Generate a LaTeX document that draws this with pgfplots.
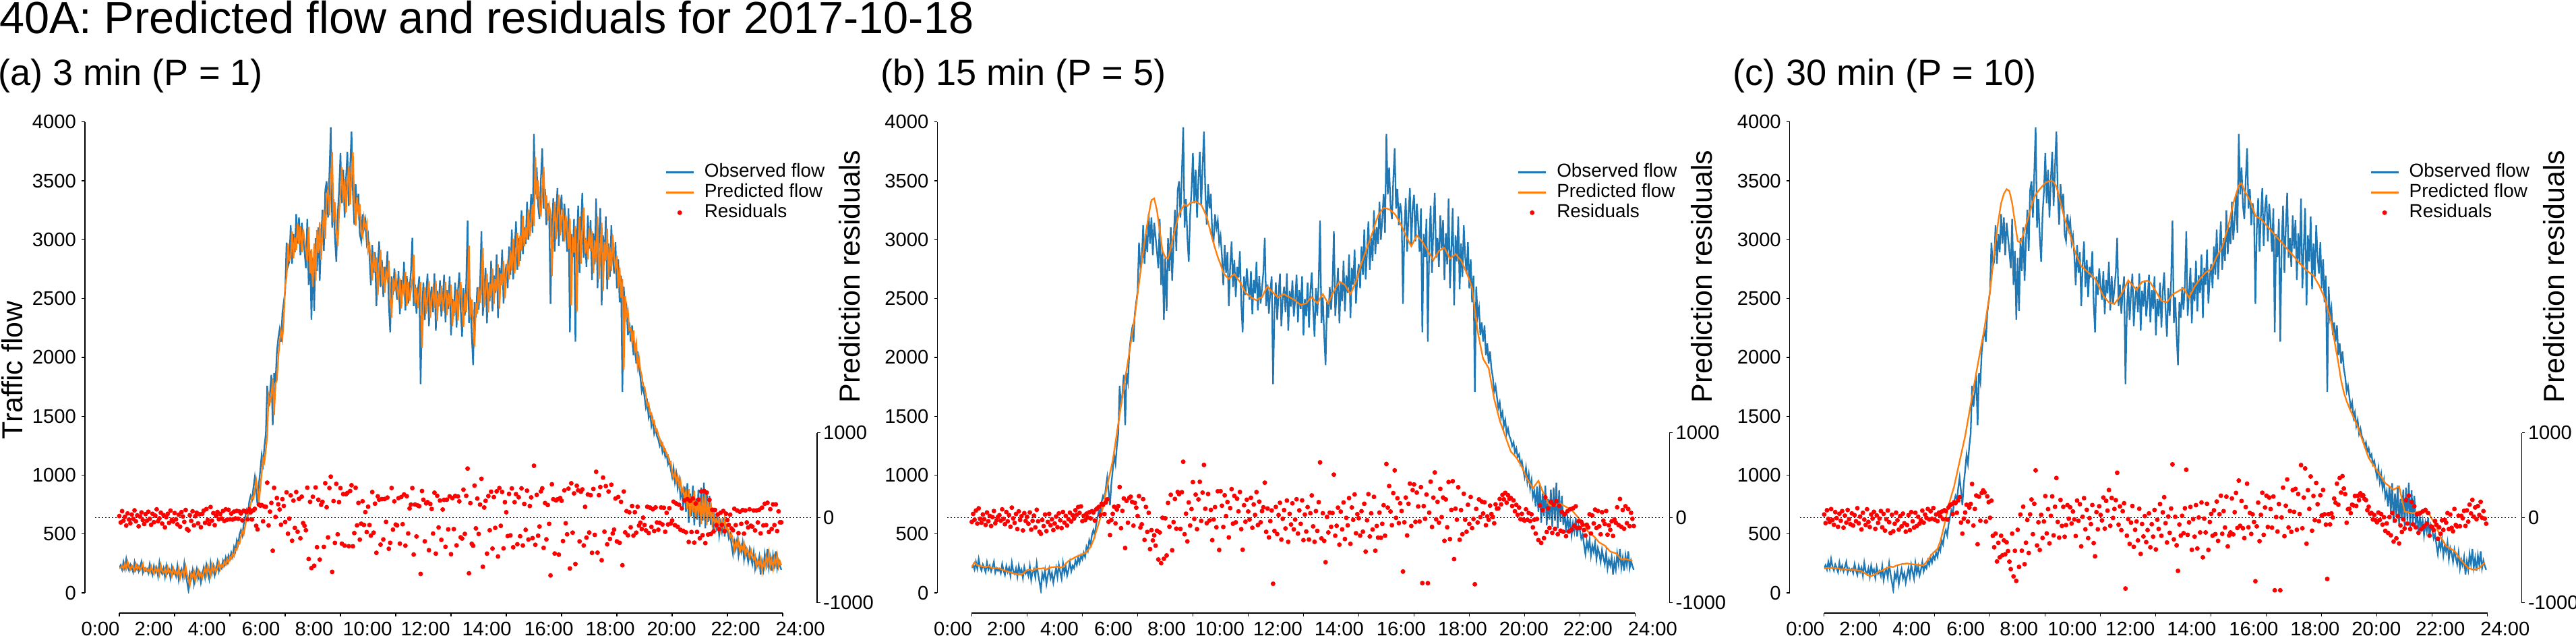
\documentclass[border=0pt]{standalone}
\usepackage{fontspec}
\setmainfont{Liberation Sans}
\usepackage{pgfplots}
\usepackage{pgfplotstable}
\pgfplotsset{compat=1.18}
\definecolor{obsblue}{HTML}{1F77B4}
\definecolor{predorange}{HTML}{FF7F0E}
\definecolor{resred}{HTML}{FF0000}
\newcommand{\tickfont}{\fontsize{7}{8.4}\selectfont}
\newcommand{\legfont}{\fontsize{6.7}{8}\selectfont}
\newcommand{\labfont}{\fontsize{10.3}{12.4}\selectfont}
\pgfplotsset{
  resmark/.style={only marks, mark=*, mark size=0.62pt, color=resred, mark options={draw=none, fill=resred},
     legend image code/.code={\draw[##1] plot coordinates {(4.9pt,0pt)};}},
  flowax/.style={
    scale only axis, width=236.16pt, height=167.59pt,
    xmin=0, xmax=24, ymin=0, ymax=4000,
    axis lines*=left,
    axis x line shift=7.2pt, axis y line shift=12.24pt,
    axis line style={line width=0.3pt, black},
    xtick={0,2,...,24},
    xticklabels={0:00,2:00,4:00,6:00,8:00,10:00,12:00,14:00,16:00,18:00,20:00,22:00,24:00},
    ytick={0,500,...,4000},
    yticklabels={0,500,1000,1500,2000,2500,3000,3500,4000},
    tick align=outside, major tick length=1.1pt,
    tick style={black, line width=0.3pt},
    tick label style={font=\tickfont},
    xticklabel style={anchor=north, inner sep=0pt, yshift=-1.95pt, xshift={{-28,-31,-34,-36,-39,-42,-38,-29,-19,-10,-1,12,26}[\ticknum]*0.24pt}},
    yticklabel style={anchor=east, inner sep=0pt, xshift=-1.85pt},
    legend entries={Observed flow, Predicted flow, Residuals},
    legend cell align=left,
    legend image code/.code={\draw[##1] (0pt,0pt) -- (9.8pt,0pt);},
    legend style={at={(0.822,0.914)}, anchor=north west, draw=none, fill=none, inner sep=0pt, font=\legfont, row sep=0.6pt, nodes={inner sep=0pt, text height=5pt, text depth=1.6pt}, /tikz/every odd column/.append style={column sep=3.6pt}},
  },
  resax/.style={
    scale only axis, width=236.16pt, height=60.46pt,
    xmin=0, xmax=24, ymin=-1000, ymax=1000,
    axis x line=none, axis y line*=right,
    axis y line shift=12.24pt,
    axis line style={line width=0.3pt, black},
    xtick=\empty,
    ytick={-1000,0,1000}, yticklabels={-1000,0,1000},
    tick align=outside, major tick length=1.1pt,
    tick style={black, line width=0.3pt},
    tick label style={font=\tickfont},
    yticklabel style={anchor=west, inner sep=0pt, xshift=0.9pt},
    clip=false,
  },
}
\newcommand{\panel}[4]{%
\begin{axis}[flowax, at={(#1,15.12pt)}, anchor=south west]
  \addplot[obsblue, line width=0.55pt] table[x expr=\coordindex*0.05, y=v]{\obs};
  \addplot[predorange, line width=0.55pt] table[x expr=\coordindex*#3, y=v]{#2};
  \addlegendimage{resmark}
\end{axis}
\begin{axis}[resax, at={(#1,11.64pt)}, anchor=south west]
  \addplot[black, line width=0.45pt, dash pattern=on 0.45pt off 0.75pt] coordinates {(-0.88,0) (25.05,0)};
  \addplot[resmark] table[x expr=\coordindex*0.05, y=v]{#4};
\end{axis}}
\begin{document}
\pgfplotstableread[row sep=\\]{
v\\
212\\236\\198\\263\\205\\288\\224\\190\\241\\213\\176\\258\\197\\231\\183\\219\\264\\172\\209\\187\\
203\\168\\245\\189\\152\\227\\178\\213\\143\\256\\184\\161\\209\\137\\231\\172\\198\\126\\219\\164\\
187\\143\\228\\109\\176\\202\\131\\249\\158\\92\\22\\165\\118\\191\\74\\146\\203\\122\\169\\87\\
151\\212\\134\\238\\176\\119\\253\\168\\224\\147\\196\\262\\183\\231\\209\\274\\236\\301\\257\\318\\
286\\342\\305\\391\\357\\448\\412\\497\\534\\488\\583\\642\\701\\664\\776\\824\\792\\893\\981\\862\\
744\\928\\1041\\1171\\1096\\1248\\1352\\1759\\1583\\1694\\1852\\1425\\1866\\1791\\2048\\2162\\2240\\2133\\2376\\2471\\
2560\\2975\\2774\\2812\\3122\\2795\\3048\\2893\\3217\\2966\\3189\\2868\\3143\\3021\\2897\\2758\\3176\\2614\\2905\\2320\\
2845\\2395\\3012\\2733\\3104\\2651\\2987\\3255\\2906\\3421\\3496\\3187\\3562\\3955\\3102\\3344\\3018\\2812\\3217\\3411\\
3736\\3309\\3594\\3188\\3512\\3745\\3286\\3618\\3918\\3402\\3127\\3471\\3265\\3389\\3044\\2988\\3215\\3096\\3163\\2972\\
3034\\2861\\2612\\2955\\2718\\2893\\2436\\2781\\2984\\2597\\2827\\2513\\2769\\2678\\2902\\2455\\2213\\2688\\2531\\2754\\
2602\\2489\\2731\\2366\\2658\\2543\\2812\\2398\\2691\\2457\\2588\\2725\\3015\\2436\\2619\\2371\\2562\\2688\\1772\\2394\\
2637\\2318\\2542\\2712\\2265\\2498\\2601\\2384\\2713\\2226\\2566\\2431\\2654\\2347\\2489\\2702\\2298\\2571\\2412\\2689\\
2187\\2496\\2348\\2635\\2254\\2563\\2721\\2409\\2175\\2588\\2356\\2642\\3162\\2293\\2511\\2186\\1935\\2468\\2337\\2596\\
2405\\2618\\3071\\2352\\2546\\2760\\2289\\2637\\2478\\2821\\2391\\2696\\2547\\2873\\2334\\2762\\2617\\2915\\2459\\2684\\
2793\\2588\\2942\\2701\\3085\\2662\\2896\\3154\\2745\\3012\\2819\\3248\\2877\\3106\\2961\\3321\\2998\\3167\\3386\\3059\\
3897\\3384\\3612\\3291\\3175\\3508\\3776\\3263\\3431\\3122\\3309\\3218\\2454\\3086\\3352\\2899\\3208\\3437\\2946\\3268\\
3381\\2986\\3305\\3142\\2897\\3264\\2213\\3048\\2852\\3176\\2133\\2963\\3289\\2717\\3102\\3398\\2846\\3013\\2768\\3205\\
2924\\3167\\2658\\3054\\2791\\3349\\2587\\2931\\3268\\2442\\3036\\2815\\3197\\2579\\2968\\2683\\3121\\2854\\2712\\2978\\
2586\\2833\\2467\\2694\\1706\\2602\\2348\\2421\\2188\\2296\\2134\\2272\\2019\\2118\\1947\\2051\\1903\\1834\\1712\\1758\\
1663\\1572\\1618\\1489\\1534\\1417\\1468\\1352\\1396\\1331\\1302\\1248\\1279\\1193\\1227\\1154\\1176\\1092\\1121\\1046\\
984\\1063\\941\\1010\\886\\957\\812\\863\\734\\902\\688\\931\\596\\844\\652\\912\\574\\798\\621\\877\\
563\\894\\612\\936\\548\\871\\603\\824\\577\\689\\512\\641\\553\\617\\488\\592\\521\\636\\479\\574\\
532\\461\\498\\408\\330\\436\\372\\451\\317\\402\\349\\428\\286\\381\\337\\264\\365\\298\\244\\342\\
207\\281\\232\\304\\156\\268\\198\\331\\245\\372\\214\\296\\187\\318\\236\\352\\209\\274\\228\\196\\
}\obs
\pgfplotstableread[row sep=\\]{
v\\
208\\213\\230\\203\\249\\208\\266\\221\\198\\233\\214\\188\\245\\202\\226\\193\\218\\249\\185\\211\\
186\\198\\173\\227\\188\\162\\214\\180\\205\\156\\235\\184\\168\\202\\151\\217\\176\\194\\144\\209\\
164\\180\\150\\209\\126\\173\\191\\141\\224\\160\\114\\65\\165\\132\\183\\101\\152\\192\\135\\168\\
123\\168\\210\\156\\229\\185\\145\\239\\180\\219\\178\\212\\258\\203\\237\\221\\267\\240\\286\\255\\
306\\292\\331\\312\\374\\364\\430\\419\\480\\527\\497\\564\\630\\689\\671\\754\\814\\798\\873\\963\\
886\\768\\891\\1018\\1145\\1111\\1218\\1331\\1678\\1618\\1672\\1820\\1510\\1778\\1806\\1997\\2139\\2224\\2154\\2327\\
2615\\2677\\2968\\2827\\2853\\3070\\2842\\3019\\2910\\3137\\2961\\3117\\2893\\3085\\3000\\2913\\2816\\3108\\2715\\2919\\
2599\\2967\\2652\\3083\\2888\\3148\\2831\\3066\\3254\\3009\\3370\\3422\\3206\\3468\\3744\\3146\\3316\\3088\\2943\\3227\\
3388\\3615\\3316\\3516\\3232\\3458\\3622\\3300\\3533\\3743\\3311\\3119\\3360\\3216\\3302\\3061\\3022\\3181\\3097\\3144\\
2905\\2949\\2828\\2653\\2894\\2728\\2850\\2530\\2772\\2914\\2608\\2769\\2549\\2728\\2665\\2821\\2509\\2339\\2672\\2562\\
2687\\2580\\2501\\2671\\2415\\2620\\2539\\2727\\2438\\2643\\2479\\2571\\2667\\2870\\2464\\2592\\2419\\2552\\2641\\2080\\
2426\\2596\\2373\\2529\\2648\\2336\\2499\\2571\\2419\\2649\\2308\\2546\\2452\\2608\\2393\\2492\\2641\\2359\\2550\\2438\\
2617\\2266\\2482\\2379\\2580\\2313\\2529\\2640\\2421\\2258\\2547\\2384\\2584\\2948\\2340\\2493\\2265\\2090\\2463\\2371\\
2597\\2464\\2613\\2930\\2426\\2562\\2712\\2382\\2626\\2515\\2755\\2454\\2667\\2563\\2791\\2414\\2713\\2612\\2821\\2501\\
2729\\2805\\2662\\2909\\2741\\3010\\2713\\2877\\3058\\2772\\3038\\2903\\3204\\2944\\3104\\3003\\3255\\3029\\3147\\3300\\
3116\\3703\\3344\\3503\\3279\\3198\\3431\\3618\\3259\\3377\\3160\\3291\\3228\\2693\\3135\\3321\\3004\\3221\\3381\\3037\\
3182\\3261\\2984\\3208\\3093\\2922\\3179\\2443\\3028\\2890\\3117\\2387\\2968\\3196\\2796\\3065\\3273\\2886\\3003\\2832\\
3099\\2902\\3072\\2716\\2993\\2809\\3199\\2666\\2907\\3143\\2564\\2980\\2826\\3093\\2660\\2933\\2733\\3040\\2853\\2753\\
2865\\2590\\2763\\2507\\2666\\1894\\2521\\2344\\2395\\2232\\2247\\2134\\2230\\2053\\2123\\1923\\1996\\1892\\1845\\1758\\
1749\\1682\\1590\\1609\\1515\\1525\\1440\\1458\\1375\\1387\\1344\\1308\\1259\\1273\\1210\\1220\\1169\\1172\\1109\\1115\\
1017\\974\\1029\\944\\992\\905\\955\\853\\889\\799\\861\\712\\882\\647\\821\\686\\868\\632\\789\\665\\
806\\586\\818\\620\\847\\576\\802\\614\\769\\596\\674\\550\\641\\579\\624\\534\\606\\557\\637\\527\\
552\\522\\473\\499\\436\\361\\435\\390\\446\\352\\401\\364\\420\\320\\377\\346\\295\\366\\319\\281\\
314\\220\\272\\237\\288\\184\\263\\214\\307\\247\\335\\225\\282\\206\\298\\240\\321\\221\\267\\235\\
}\pa
\pgfplotstableread[row sep=\\]{
v\\
219\\258\\236\\228\\224\\219\\226\\214\\210\\212\\
206\\197\\188\\181\\174\\166\\160\\156\\153\\172\\
193\\198\\186\\203\\205\\206\\210\\198\\214\\217\\
219\\222\\214\\219\\248\\271\\284\\297\\310\\318\\
329\\337\\362\\389\\448\\520\\596\\677\\792\\913\\
1015\\1123\\1278\\1437\\1594\\1751\\1893\\2040\\2196\\2354\\
2540\\2721\\2890\\3061\\3210\\3336\\3350\\3248\\3080\\2904\\
2852\\2839\\2931\\3035\\3132\\3219\\3262\\3297\\3286\\3310\\
3318\\3323\\3309\\3297\\3248\\3192\\3101\\3009\\2928\\2852\\
2790\\2721\\2690\\2668\\2689\\2708\\2671\\2642\\2598\\2550\\
2529\\2511\\2496\\2485\\2502\\2511\\2560\\2603\\2574\\2550\\
2528\\2511\\2526\\2537\\2522\\2511\\2497\\2485\\2463\\2446\\
2452\\2459\\2488\\2511\\2483\\2459\\2501\\2537\\2496\\2459\\
2512\\2564\\2606\\2642\\2631\\2616\\2574\\2537\\2590\\2642\\
2721\\2799\\2866\\2930\\2996\\3061\\3136\\3205\\3240\\3271\\
3265\\3258\\3240\\3219\\3182\\3140\\3088\\3035\\2990\\2944\\
2990\\3035\\3010\\2983\\2942\\2904\\2865\\2826\\2866\\2904\\
2918\\2930\\2884\\2839\\2858\\2878\\2851\\2826\\2772\\2721\\
2660\\2590\\2405\\2223\\2102\\1987\\1948\\1909\\1778\\1647\\
1556\\1463\\1398\\1332\\1266\\1201\\1176\\1149\\1110\\1070\\
1018\\965\\926\\887\\921\\952\\893\\834\\788\\743\\
741\\743\\750\\756\\743\\730\\716\\703\\677\\651\\
625\\599\\560\\520\\500\\481\\455\\428\\415\\402\\
376\\350\\343\\337\\311\\284\\286\\284\\278\\271\\
}\pb
\pgfplotstableread[row sep=\\]{
v\\
205\\212\\208\\214\\206\\210\\199\\204\\196\\201\\
192\\197\\188\\190\\176\\162\\148\\143\\151\\168\\
183\\190\\203\\214\\223\\219\\231\\238\\244\\247\\
250\\246\\243\\240\\238\\235\\236\\262\\296\\330\\
352\\374\\438\\530\\636\\743\\824\\904\\1011\\1118\\
1225\\1332\\1466\\1599\\1733\\1866\\1995\\2123\\2250\\2405\\
2561\\2775\\2988\\3160\\3309\\3389\\3429\\3412\\3310\\3149\\
2988\\2975\\3041\\3122\\3202\\3282\\3362\\3398\\3429\\3456\\
3482\\3494\\3501\\3490\\3452\\3362\\3268\\3175\\3108\\3041\\
2961\\2881\\2828\\2774\\2754\\2734\\2712\\2690\\2668\\2619\\
2570\\2521\\2494\\2467\\2460\\2454\\2486\\2518\\2558\\2606\\
2654\\2627\\2600\\2574\\2608\\2641\\2646\\2652\\2635\\2598\\
2561\\2520\\2480\\2474\\2467\\2500\\2534\\2548\\2561\\2574\\
2587\\2547\\2507\\2554\\2601\\2634\\2668\\2694\\2721\\2735\\
2748\\2801\\2855\\2895\\2935\\3015\\3095\\3202\\3309\\3384\\
3460\\3480\\3416\\3376\\3336\\3269\\3202\\3188\\3175\\3148\\
3122\\3095\\3068\\3041\\3015\\2988\\2961\\2935\\2908\\2881\\
2855\\2828\\2801\\2775\\2748\\2730\\2712\\2694\\2654\\2614\\
2560\\2507\\2427\\2347\\2226\\2086\\1956\\1806\\1702\\1629\\
1569\\1519\\1465\\1412\\1345\\1278\\1211\\1145\\1109\\1074\\
1038\\1002\\967\\931\\913\\895\\877\\890\\904\\797\\
690\\686\\681\\677\\684\\690\\690\\690\\677\\664\\
623\\583\\530\\477\\437\\397\\383\\370\\356\\323\\
290\\263\\237\\210\\203\\196\\203\\210\\237\\255\\
}\pc
\pgfplotstableread[row sep=\\]{
v\\
19\\-56\\77\\-35\\10\\-93\\50\\-22\\-66\\37\\-14\\86\\-43\\27\\-101\\13\\62\\-29\\-75\\42\\
-34\\70\\-13\\-83\\46\\-53\\24\\98\\-42\\-8\\59\\-70\\30\\-114\\5\\45\\-61\\83\\-26\\-46\\
54\\-19\\-78\\35\\-106\\66\\14\\-50\\91\\-134\\-150\\29\\-37\\75\\-91\\18\\58\\-67\\40\\-112\\
46\\82\\-61\\101\\-27\\-74\\125\\-34\\53\\-88\\22\\67\\-18\\43\\-10\\78\\-38\\98\\-24\\93\\
-18\\47\\-22\\71\\-9\\80\\-13\\72\\49\\-31\\81\\74\\66\\-19\\98\\63\\-21\\87\\104\\-96\\
-138\\154\\142\\148\\-43\\131\\128\\412\\-92\\71\\173\\-389\\351\\9\\232\\158\\96\\-82\\218\\139\\
-51\\298\\-189\\-11\\263\\-271\\201\\-121\\302\\-166\\221\\-243\\247\\-63\\-96\\-148\\353\\-487\\187\\-593\\
246\\-566\\356\\-347\\211\\-493\\152\\187\\-344\\406\\123\\-232\\349\\483\\-638\\195\\-297\\398\\-196\\184\\
348\\-306\\278\\-328\\276\\291\\-336\\314\\382\\-337\\-181\\352\\-91\\173\\-258\\-71\\193\\-85\\66\\-170\\
129\\-86\\-211\\302\\-176\\165\\-414\\251\\212\\-317\\219\\-256\\220\\-50\\237\\-366\\-296\\349\\-141\\192\\
-81\\-91\\230\\-305\\243\\-77\\273\\-329\\253\\-186\\109\\154\\348\\-434\\155\\-221\\143\\136\\-662\\314\\
211\\-278\\169\\183\\-383\\162\\102\\-187\\294\\-423\\258\\-115\\202\\-261\\96\\210\\-343\\212\\-138\\251\\
-430\\230\\-134\\256\\-326\\250\\192\\-231\\-246\\330\\-191\\258\\578\\-655\\171\\-307\\-330\\378\\-126\\225\\
-192\\154\\458\\-578\\120\\198\\-423\\255\\-148\\306\\-364\\242\\-120\\310\\-457\\348\\-96\\303\\-362\\183\\
64\\-217\\280\\-208\\344\\-348\\183\\277\\-313\\240\\-219\\345\\-327\\162\\-143\\318\\-257\\138\\239\\-241\\
611\\-319\\268\\-212\\-104\\310\\345\\-355\\172\\-255\\149\\-73\\-680\\393\\217\\-422\\204\\216\\-435\\231\\
199\\-275\\321\\-66\\-196\\342\\-598\\405\\-176\\286\\-545\\376\\321\\-279\\306\\333\\-327\\127\\-235\\273\\
-175\\265\\-414\\338\\-202\\540\\-412\\265\\361\\-501\\472\\-165\\371\\-314\\308\\-250\\388\\-186\\-141\\225\\
-279\\243\\-296\\187\\-560\\308\\-173\\77\\-207\\64\\-113\\138\\-211\\65\\-176\\128\\-93\\-58\\-133\\0\\
-86\\-150\\128\\-180\\119\\-108\\98\\-156\\121\\-56\\-142\\-60\\120\\-80\\117\\-166\\57\\-80\\112\\-69\\
-33\\189\\-88\\166\\-106\\152\\-143\\110\\-155\\203\\-173\\219\\-286\\197\\-169\\226\\-294\\166\\-168\\212\\
-243\\308\\-206\\316\\-299\\295\\-199\\210\\-192\\93\\-162\\91\\-88\\38\\-136\\58\\-85\\79\\-158\\47\\
-28\\-85\\35\\-127\\-148\\105\\-88\\85\\-181\\70\\-73\\90\\-188\\85\\-56\\-115\\98\\-95\\-105\\85\\
-150\\85\\-56\\94\\-185\\118\\-91\\164\\-87\\175\\-169\\99\\-133\\157\\-87\\157\\-157\\74\\-55\\-55\\
}\ra
\pgfplotstableread[row sep=\\]{
v\\
-50\\45\\-24\\83\\-70\\110\\-13\\-59\\38\\-18\\-85\\61\\-42\\21\\-98\\6\\78\\-66\\-30\\11\\
29\\-35\\98\\-14\\-77\\67\\-43\\30\\-106\\118\\-8\\-61\\43\\-133\\74\\-27\\18\\-150\\53\\-38\\
11\\-72\\62\\-141\\-37\\24\\-114\\93\\-43\\-166\\-190\\-26\\-99\\37\\-158\\-50\\45\\-90\\-19\\-146\\
-69\\14\\-112\\50\\-30\\-123\\67\\-58\\21\\-93\\-18\\59\\-46\\29\\-10\\88\\34\\125\\56\\133\\
-41\\22\\-29\\47\\2\\64\\-8\\76\\61\\-33\\98\\112\\127\\31\\164\\152\\43\\178\\216\\-49\\
-204\\-28\\45\\128\\-67\\96\\137\\361\\-124\\79\\226\\-357\\198\\-59\\234\\247\\186\\-94\\174\\118\\
20\\254\\-116\\-78\\218\\-262\\126\\-168\\57\\-370\\-147\\-268\\-207\\-329\\-153\\-492\\-174\\-536\\-1\\-484\\
-7\\-444\\173\\-106\\269\\-384\\-52\\220\\-129\\302\\277\\-132\\300\\658\\-195\\47\\-279\\179\\-93\\101\\
418\\-14\\271\\-135\\215\\422\\-37\\295\\621\\105\\-65\\279\\-32\\92\\-265\\-21\\124\\-113\\311\\-380\\
312\\141\\-109\\264\\19\\185\\-232\\113\\336\\-71\\257\\-55\\223\\74\\302\\-135\\-377\\146\\-48\\212\\
73\\-22\\235\\-119\\156\\32\\301\\-87\\189\\-54\\77\\122\\412\\-167\\108\\-232\\-41\\85\\-778\\-156\\
126\\-193\\31\\175\\-257\\-13\\90\\-127\\202\\-285\\45\\-80\\169\\-138\\-22\\217\\-187\\86\\-73\\204\\
-265\\37\\-163\\124\\-257\\52\\262\\-102\\-284\\77\\-155\\183\\651\\-244\\52\\-273\\-524\\9\\-174\\59\\
-107\\54\\507\\-212\\-96\\118\\-318\\71\\-138\\179\\-251\\-2\\-91\\231\\-308\\120\\-25\\273\\-183\\42\\
-6\\-211\\76\\-165\\164\\-399\\-30\\277\\-221\\51\\-140\\245\\-389\\-98\\-235\\60\\-237\\-73\\146\\-212\\
632\\119\\372\\72\\-89\\289\\557\\-2\\229\\-64\\169\\78\\-634\\-54\\237\\-209\\164\\401\\-98\\324\\
391\\-49\\295\\132\\-45\\360\\-770\\137\\-13\\272\\-771\\59\\424\\-109\\236\\532\\-19\\187\\-58\\339\\
6\\237\\-272\\215\\-113\\419\\-252\\92\\430\\-488\\106\\-23\\358\\-260\\90\\-195\\282\\-24\\-166\\152\\
-74\\243\\-123\\-15\\-784\\103\\-56\\215\\6\\190\\49\\182\\-89\\15\\-25\\142\\43\\7\\-66\\157\\
107\\109\\220\\157\\268\\216\\292\\176\\265\\221\\232\\138\\204\\75\\150\\33\\119\\-18\\46\\-24\\
-34\\98\\-24\\55\\-40\\40\\-114\\-24\\-187\\-15\\-264\\144\\-297\\89\\-241\\240\\-169\\110\\-122\\187\\
-178\\153\\-131\\195\\-195\\141\\-153\\68\\-166\\41\\-218\\75\\-163\\99\\-142\\111\\-95\\134\\-124\\-42\\
-121\\-49\\-81\\-146\\-210\\-83\\-114\\40\\-186\\26\\-68\\95\\-122\\79\\-101\\-196\\65\\-35\\-75\\78\\
-200\\-90\\-144\\-43\\-215\\-21\\-59\\122\\-86\\220\\-107\\91\\-129\\135\\-65\\101\\-100\\57\\-13\\-98\\
}\rb
\pgfplotstableread[row sep=\\]{
v\\
38\\-64\\88\\-14\\-50\\101\\-27\\-83\\66\\-5\\-107\\46\\-35\\77\\-118\\24\\-58\\91\\-18\\-77\\
50\\-93\\30\\-42\\112\\-66\\13\\-139\\58\\-22\\-85\\99\\-50\\-110\\38\\-10\\69\\-131\\27\\-61\\
-10\\78\\-114\\45\\-152\\-19\\85\\-53\\-180\\34\\-160\\-72\\59\\-30\\-141\\19\\-102\\48\\-66\\-165\\
-86\\29\\-147\\66\\-43\\-117\\58\\-98\\11\\-70\\-30\\83\\-58\\37\\-2\\102\\-21\\75\\-13\\114\\
-23\\38\\-41\\59\\18\\71\\-16\\88\\77\\-22\\121\\146\\157\\43\\182\\171\\58\\203\\241\\-57\\
-188\\-12\\61\\152\\-46\\119\\162\\396\\-93\\102\\261\\-313\\247\\-35\\291\\321\\298\\-46\\251\\183\\
-1\\200\\-214\\-348\\-188\\-515\\-296\\-467\\-213\\-442\\-267\\-431\\-290\\-393\\-517\\-606\\-188\\-691\\-390\\-744\\
-143\\-580\\37\\-389\\129\\-547\\-295\\-27\\-416\\39\\214\\-195\\164\\557\\-327\\-54\\-380\\33\\-239\\-45\\
254\\-185\\100\\-302\\22\\251\\-208\\128\\466\\-50\\-235\\209\\-97\\127\\-224\\-87\\147\\-12\\122\\-69\\
73\\-20\\-216\\201\\-36\\159\\-338\\11\\230\\-137\\93\\-241\\-5\\-76\\148\\-299\\-455\\66\\-137\\135\\
32\\-32\\237\\-128\\198\\83\\326\\-96\\233\\-3\\102\\207\\529\\-82\\133\\-147\\76\\170\\-834\\-212\\
-17\\-309\\-58\\138\\-343\\-143\\-45\\-268\\105\\-426\\-75\\-221\\19\\-288\\-146\\50\\-348\\-77\\-223\\91\\
-374\\-24\\-132\\161\\-213\\63\\241\\-65\\-292\\14\\-178\\108\\628\\-255\\11\\-325\\-626\\-80\\-211\\22\\
-182\\111\\564\\-202\\-55\\126\\-378\\-17\\-223\\147\\-363\\2\\-174\\179\\-467\\-11\\-174\\164\\-379\\-51\\
45\\-213\\87\\-194\\190\\-273\\41\\259\\-190\\77\\-116\\247\\-338\\-209\\-174\\226\\-197\\65\\291\\-121\\
437\\-96\\196\\-125\\-241\\124\\400\\-113\\55\\-192\\40\\-51\\-748\\-102\\177\\-276\\33\\293\\-202\\120\\
259\\-109\\237\\101\\-118\\249\\-855\\7\\-163\\161\\-855\\2\\354\\-218\\141\\450\\-115\\78\\-167\\324\\
69\\339\\-143\\279\\43\\619\\-125\\237\\580\\-306\\324\\103\\485\\-153\\256\\-29\\409\\159\\-42\\264\\
26\\326\\40\\-81\\-721\\42\\-79\\50\\2\\225\\176\\400\\153\\466\\295\\489\\343\\278\\-59\\99\\
104\\53\\153\\144\\256\\139\\257\\207\\287\\258\\264\\220\\207\\89\\128\\48\\55\\-21\\31\\-30\\
-54\\61\\-26\\43\\-81\\5\\-155\\-68\\-179\\7\\-207\\54\\-281\\-33\\-243\\17\\-303\\-92\\-169\\-20\\
-127\\208\\-69\\259\\-133\\187\\-78\\134\\-113\\41\\-178\\49\\-137\\73\\-102\\92\\-69\\54\\-211\\-103\\
-109\\-146\\-38\\-83\\-248\\-113\\-190\\-31\\-144\\-25\\-58\\54\\-133\\37\\-120\\-160\\102\\-86\\-103\\23\\
-100\\22\\-6\\80\\-97\\86\\-47\\154\\50\\210\\13\\120\\-19\\138\\31\\187\\-1\\77\\-11\\-71\\
}\rc
\begin{tikzpicture}
\useasboundingbox (0pt,0pt) rectangle (917.04pt,226.08pt);
\panel{42.48pt}{\pa}{0.05}{\ra}
\panel{345.94pt}{\pb}{0.1}{\rb}
\panel{649.39pt}{\pc}{0.1}{\rc}
\node[font=\fontsize{16}{19}\selectfont, anchor=base west, inner sep=0pt] at (-0.4pt,214.25pt) {40A: Predicted flow and residuals for 2017-10-18};
\node[font=\fontsize{13}{15.6}\selectfont, anchor=base west, inner sep=0pt] at (-0.9pt,195.67pt) {(a) 3 min (P = 1)};
\node[font=\fontsize{13}{15.6}\selectfont, anchor=base west, inner sep=0pt] at (313.44pt,195.67pt) {(b) 15 min (P = 5)};
\node[font=\fontsize{13}{15.6}\selectfont, anchor=base west, inner sep=0pt] at (616.8pt,195.67pt) {(c) 30 min (P = 10)};
\node[font=\labfont, rotate=90, anchor=base, inner sep=0pt] at (8.04pt,94.32pt) {Traffic flow};
\node[font=\labfont, rotate=90, anchor=base, inner sep=0pt] at (306pt,127.68pt) {Prediction residuals};
\node[font=\labfont, rotate=90, anchor=base, inner sep=0pt] at (609.46pt,127.68pt) {Prediction residuals};
\node[font=\labfont, rotate=90, anchor=base, inner sep=0pt] at (912.92pt,127.68pt) {Prediction residuals};
\end{tikzpicture}
\end{document}
